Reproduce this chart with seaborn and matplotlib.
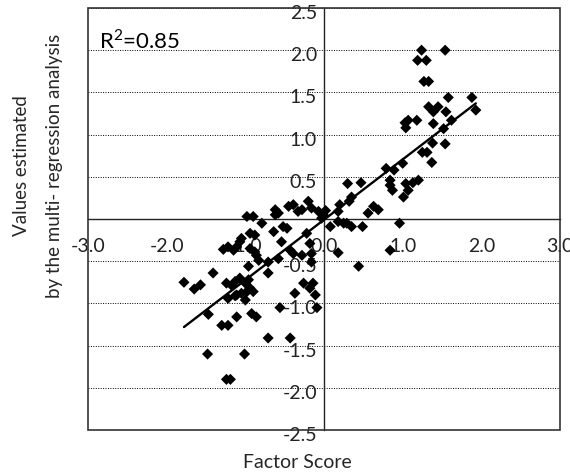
import matplotlib
matplotlib.use("Agg")
import matplotlib.pyplot as plt
import matplotlib.transforms as mtransforms
from matplotlib.patches import Rectangle
import seaborn as sns
import pandas as pd

factor_score = [
    1.24, 1.54, 1.19, 1.30, 1.27, 1.33, 1.58, 1.88, 1.93,
    1.33, 1.39, 1.45, 1.55, 1.62, 1.39, 1.52,
    1.03, 1.07, 1.18, 1.04,
    1.38, 1.54, 1.25, 1.31, 1.37,
    0.79, 0.89, 1.00,
    0.84, 0.84, 0.87, 1.01, 1.04, 1.07, 1.13, 1.20,
    0.30, 0.47, 0.35, 0.32, 0.20, 0.18, 0.56, 0.63, 0.69, 0.02, 0.00,
    0.08, 0.18, 0.25, 0.29, 0.35, 0.49, 0.96, 0.18, 0.44, 0.84,
    -0.98, -0.90, -0.79, -0.94, -0.88, -0.62, -0.62, -0.58, -0.45, -0.39, -0.33, -0.28,
    -0.20, -0.16, -0.07, -0.03,
    -0.64, -0.52, -0.47, -0.22, -0.54, -0.43, -0.39, -0.18, -0.16, -0.28,
    -1.28, -1.22, -1.15, -1.11, -1.07, -1.05,
    -0.86, -0.83, -0.96, -0.71, -0.71, -0.58, -0.94, -0.88,
    -1.41, -1.78, -1.65, -1.57,
    -1.24, -1.17, -1.13, -1.07, -1.00, -0.96, -0.94, -0.90,
    -1.22, -1.13, -1.11, -1.00, -1.05, -0.98,
    -1.47, -1.30, -1.22, -1.11, -0.92, -0.86,
    -0.71, -0.43, -1.48, -1.01, -1.24, -1.19,
    -0.56, -0.37, -0.26, -0.14, -0.18, -0.11, -0.09, -0.16,
]
estimated = [
    2.00, 2.00, 1.88, 1.88, 1.63, 1.63, 1.44, 1.44, 1.29,
    1.33, 1.27, 1.33, 1.27, 1.17, 1.13, 1.07,
    1.14, 1.17, 1.17, 1.08,
    0.90, 0.89, 0.79, 0.79, 0.67,
    0.60, 0.58, 0.66,
    0.46, 0.40, 0.34, 0.26, 0.42, 0.34, 0.43, 0.46,
    0.42, 0.43, 0.26, 0.21, 0.17, 0.09, 0.07, 0.15, 0.11, 0.10, 0.04,
    -0.09, -0.03, -0.05, -0.05, -0.09, -0.09, -0.05, -0.40, -0.56, -0.37,
    0.03, 0.03, -0.05, -0.17, -0.19, 0.11, 0.05, 0.07, 0.15, 0.17, 0.09, 0.11,
    0.21, 0.13, 0.09, 0.01,
    -0.15, -0.09, -0.11, -0.17, -0.27, -0.37, -0.41, -0.29, -0.41, -0.43,
    -0.36, -0.33, -0.37, -0.33, -0.27, -0.23,
    -0.43, -0.49, -0.56, -0.51, -0.64, -0.47, -0.35, -0.39,
    -0.64, -0.75, -0.83, -0.78,
    -0.76, -0.79, -0.74, -0.70, -0.76, -0.72, -0.82, -0.86,
    -0.94, -0.91, -0.90, -0.96, -0.88, -0.86,
    -1.13, -1.26, -1.26, -1.16, -1.12, -1.16,
    -1.41, -1.41, -1.60, -1.60, -1.90, -1.90,
    -1.05, -0.88, -0.76, -0.76, -0.82, -0.90, -1.05, -0.51,
]
# regression line endpoints
trend_x = [-1.78, 1.93]
trend_y = [-1.28, 1.37]

x_ticks = [-3.0, -2.0, -1.0, 0.0, 1.0, 2.0, 3.0]
x_tick_labels = ["-3.0", "-2.0", "-1.0", "0.0", "1.0", "2.0", "3.0"]
y_ticks = [-2.5, -2.0, -1.5, -1.0, -0.5, 0.0, 0.5, 1.0, 1.5, 2.0, 2.5]
y_tick_labels = ["-2.5", "-2.0", "-1.5", "-1.0", "-0.5", "", "0.5", "1.0", "1.5", "2.0", "2.5"]
r2_text = "R$^2$=0.85"
x_label = "Factor Score"
y_label_1 = "Values estimated"
y_label_2 = "by the multi- regression analysis"

df = pd.DataFrame({"factor": factor_score, "est": estimated})
df_line = pd.DataFrame({"x": trend_x, "y": trend_y})

sns.set_style("white")
plt.rcParams["font.family"] = ["Lato", "DejaVu Sans"]
plt.rcParams["mathtext.fontset"] = "custom"
plt.rcParams["mathtext.rm"] = "Lato"

fig = plt.figure(figsize=(5.7, 4.75), dpi=100)
ax = fig.add_axes([88 / 570, 45 / 475, 472 / 570, 422 / 475])

sns.scatterplot(data=df, x="factor", y="est", ax=ax, marker="D", s=32,
                color="black", edgecolor="none", alpha=1, zorder=3)
sns.lineplot(data=df_line, x="x", y="y", ax=ax, color="black", lw=1.7,
             zorder=4, estimator=None, sort=False)

ax.set_xlim(-3, 3)
ax.set_ylim(-2.5, 2.5)
ax.set_xlabel("")
ax.set_ylabel("")

ax.grid(axis="y", linestyle=(0, (1, 1.5)), color="black", lw=0.7)
ax.grid(axis="x", visible=False)

for s in ["top", "right"]:
    ax.spines[s].set_visible(False)
ax.spines["left"].set_position(("data", 0))
ax.spines["bottom"].set_position(("data", 0))
for s in ["left", "bottom"]:
    ax.spines[s].set_color("#222222")
    ax.spines[s].set_linewidth(1.0)
ax.add_patch(Rectangle((0, 0), 1, 1, transform=ax.transAxes, fill=False,
                       edgecolor="#333333", lw=1.2, clip_on=False, zorder=5))

ax.set_xticks(x_ticks)
ax.set_xticklabels(x_tick_labels)
ax.set_yticks(y_ticks)
ax.set_yticklabels(y_tick_labels)
ax.tick_params(axis="x", direction="in", length=5, width=1, pad=14,
               labelsize=14, colors="#222222")
ax.tick_params(axis="y", direction="in", length=6, width=1, pad=5,
               labelsize=14, colors="#222222")
off = mtransforms.ScaledTranslation(0, -4 / 100, fig.dpi_scale_trans)
for lab in ax.get_yticklabels():
    lab.set_transform(lab.get_transform() + off)

ax.text(-2.86, 2.12, r2_text, fontsize=16, ha="left", va="center", color="black")

fig.text(297 / 570, 1 - 462 / 475, x_label, fontsize=14, ha="center", va="center")
fig.text(22 / 570, 1 - 166 / 475, y_label_1, fontsize=13.5, rotation=90,
         ha="center", va="center")
fig.text(55 / 570, 1 - 166 / 475, y_label_2, fontsize=13.5, rotation=90,
         ha="center", va="center")

fig.savefig("out.png", dpi=100)
